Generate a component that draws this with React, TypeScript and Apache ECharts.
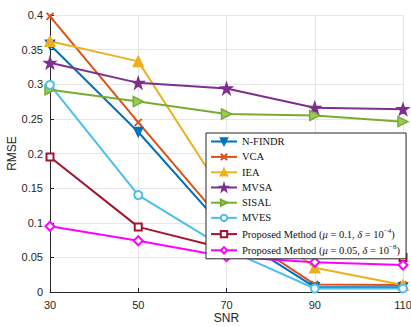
import React, { useEffect, useRef } from "react";
import * as echarts from "echarts";

const snr = [30, 50, 70, 90, 110];
const nfindr = [0.357, 0.231, 0.088, 0.007, 0.007];
const vca = [0.398, 0.245, 0.095, 0.011, 0.01];
const iea = [0.362, 0.333, 0.135, 0.035, 0.01];
const mvsa = [0.331, 0.302, 0.294, 0.266, 0.264];
const sisal = [0.292, 0.275, 0.257, 0.255, 0.246];
const mves = [0.299, 0.14, 0.062, 0.005, 0.005];
const prop1 = [0.195, 0.094, 0.062, 0.056, 0.05];
const prop2 = [0.095, 0.074, 0.051, 0.043, 0.039];

const names = [
  "N-FINDR",
  "VCA",
  "IEA",
  "MVSA",
  "SISAL",
  "MVES",
  "Proposed Method (μ = 0.1, δ = 10−4)",
  "Proposed Method (μ = 0.05, δ = 10−8)",
];

const STAR =
  "path://M50,0L61.8,35.1L100,35.1L69.1,56.9L80.9,92.7L50,70.7L19.1,92.7L30.9,56.9L0,35.1L38.2,35.1Z";
const XMARK = "path://M0,0L10,10M10,0L0,10";

export default function App() {
  const ref = useRef<HTMLDivElement>(null);
  useEffect(() => {
    const chart = echarts.init(ref.current!, null, { renderer: "svg" });
    const mk = (
      name: string,
      data: number[],
      color: string,
      symbol: string,
      size: number,
      opts: any = {}
    ) => ({
      name,
      type: "line",
      data: snr.map((x, i) => [x, data[i]]),
      symbol,
      symbolSize: size,
      showAllSymbol: true,
      lineStyle: { color, width: 2 },
      itemStyle: { color, borderColor: color, borderWidth: 1.5 },
      ...opts,
    });
    const series = [
      mk(names[0], nfindr, "#0072BD", "triangle", 9, { symbolRotate: 180 }),
      mk(names[1], vca, "#D95319", XMARK, 7, {
        itemStyle: { color: "none", borderColor: "#D95319", borderWidth: 2 },
      }),
      mk(names[2], iea, "#EDB120", "triangle", 10),
      mk(names[3], mvsa, "#7E2F8E", STAR, 11),
      mk(names[4], sisal, "#77AC30", "triangle", 10, {
        symbolRotate: -90,
        itemStyle: { color: "#9bc95c", borderColor: "#77AC30", borderWidth: 1.5 },
      }),
      mk(names[5], mves, "#4DBEEE", "emptyCircle", 8),
      mk(names[6], prop1, "#A2142F", "emptyRect", 7),
      mk(names[7], prop2, "#FF00FF", "emptyDiamond", 9),
    ];
    const serif = "Liberation Serif";
    const base = { fontFamily: serif, fontWeight: "normal", color: "#111" };
    const rich = {
      n: { ...base, fontSize: 10.5 },
      i: { ...base, fontSize: 10.5, fontStyle: "italic" },
      sup: { ...base, fontSize: 7, padding: [0, 0, 6, 0] },
    };
    chart.setOption({
      animation: false,
      grid: { left: 50, right: 8, top: 15, bottom: 35, outerBoundsMode: "none", containLabel: false },
      xAxis: {
        type: "value",
        min: 30,
        max: 110,
        interval: 20,
        name: "SNR",
        nameLocation: "middle",
        nameGap: 20,
        nameMoveOverlap: false,
        nameTextStyle: { fontFamily: "Liberation Sans", fontSize: 12, color: "#262626" },
        axisLine: { lineStyle: { color: "#262626", width: 1 } },
        axisTick: { inside: true, length: 4, lineStyle: { color: "#262626" } },
        axisLabel: { fontFamily: "Liberation Sans", fontSize: 11, color: "#262626", margin: 7 },
        splitLine: { show: true, lineStyle: { color: "#e6e6e6", width: 1 } },
      },
      yAxis: {
        type: "value",
        min: 0,
        max: 0.4,
        interval: 0.05,
        name: "RMSE",
        nameLocation: "middle",
        nameGap: 32,
        nameMoveOverlap: false,
        nameTextStyle: { fontFamily: "Liberation Sans", fontSize: 12, color: "#262626" },
        axisLine: { show: true, lineStyle: { color: "#262626", width: 1 } },
        axisTick: { show: true, inside: true, length: 4, lineStyle: { color: "#262626" } },
        axisLabel: { fontFamily: "Liberation Sans", fontSize: 11, color: "#262626", margin: 7 },
        splitLine: { show: true, lineStyle: { color: "#e6e6e6", width: 1 } },
      },
      legend: {
        orient: "vertical",
        left: 206,
        top: 133,
        itemWidth: 26,
        itemHeight: 8,
        itemGap: 4.2,
        padding: [3, 6, 3, 4],
        backgroundColor: "#fff",
        borderColor: "#262626",
        borderWidth: 1,
        borderRadius: 0,
        data: names,
        textStyle: { ...base, fontSize: 10.5, rich },
        formatter: (name: string) => {
          const m = name.match(/^Proposed Method \(μ = ([\d.]+), δ = 10−(\d)\)$/);
          if (m)
            return `{n|Proposed Method (}{i|μ}{n| = ${m[1]}, }{i|δ}{n| = 10}{sup|−${m[2]}}{n|)}`;
          return `{n|${name}}`;
        },
      },
      series,
    });
    return () => chart.dispose();
  }, []);
  return (
    <div
      ref={ref}
      style={{ width: 411, height: 327, position: "absolute", left: 0, top: 0 }}
    />
  );
}
